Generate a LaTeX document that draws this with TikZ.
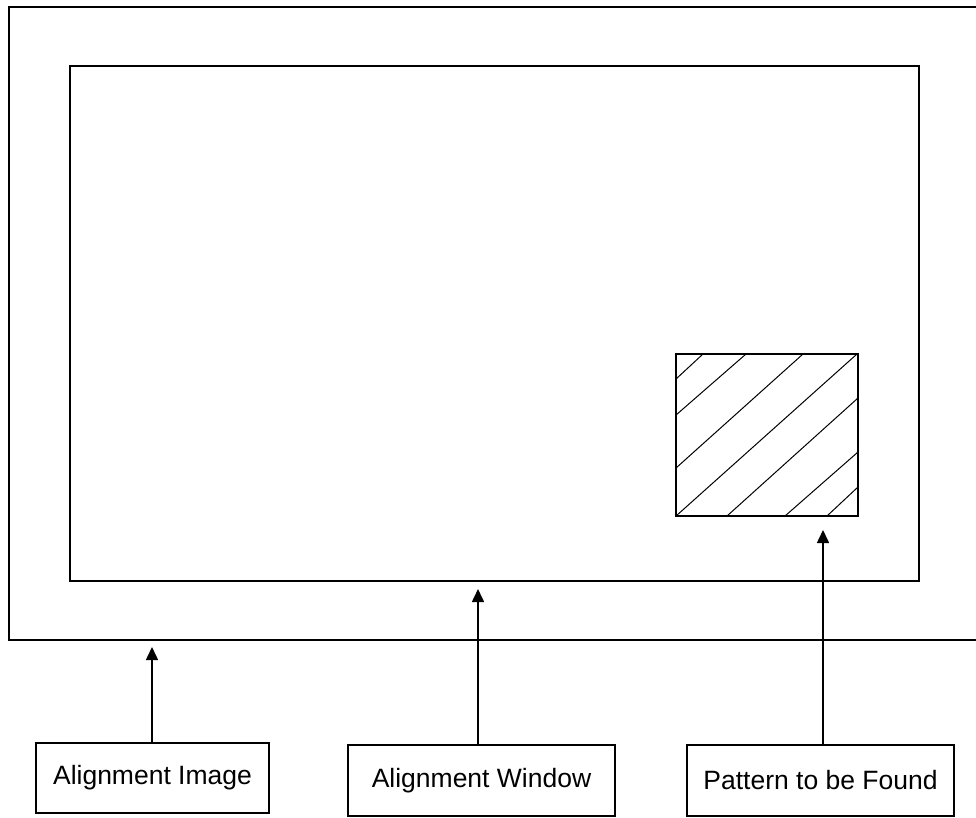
\documentclass[tikz,border=0pt]{standalone}
\usepackage{fontspec}
\setmainfont{Liberation Sans}
\usetikzlibrary{arrows.meta}
\begin{document}
\begin{tikzpicture}[x=1pt,y=-1pt,
  frame/.style={draw=black,line width=2pt},
  label box/.style={draw=black,line width=1.6pt,rectangle,inner sep=0pt,
     minimum height=71pt,font=\fontsize{26.5}{31}\selectfont},
  pointer/.style={line width=1.6pt,-{Triangle[length=13pt,width=12pt]}},
  hatch/.style={line width=1pt}]
\useasboundingbox (0,0) rectangle (976,817);
% outer image (open on the right)
\draw[frame] (976,6.5) -- (9,6.5) -- (9,639.5) -- (976,639.5);
% alignment window
\draw[frame] (70,66) rectangle (919,580.5);
% pattern
\node[draw=black,line width=2pt,rectangle,inner sep=0pt,minimum width=182pt,minimum height=162pt] (pat) at (767,435) {};
\draw[hatch] (676,379) -- (703,354);
\draw[hatch] (676,415) -- (746,354);
\draw[hatch] (676,468) -- (803,354);
\draw[hatch] (676,516) -- (857,354);
\draw[hatch] (727,516) -- (858,398);
\draw[hatch] (785,516) -- (858,452);
\draw[hatch] (827,516) -- (858,487);
% labels
\node[label box,minimum width=233pt,minimum height=70pt] (ai) at (152.5,778) {Alignment Image};
\node[label box,minimum width=267pt] (aw) at (481.5,780.5) {Alignment Window};
\node[label box,minimum width=267pt] (pf) at (820.5,780.5) {Pattern to be Found};
% arrow tips
\coordinate (t1) at (152,647);
\coordinate (t2) at (478,589);
\coordinate (t3) at (823,530);
\draw[pointer] (ai.north -| t1) -- (t1);
\draw[pointer] (aw.north -| t2) -- (t2);
\draw[pointer] (pf.north -| t3) -- (t3);
\end{tikzpicture}
\end{document}
